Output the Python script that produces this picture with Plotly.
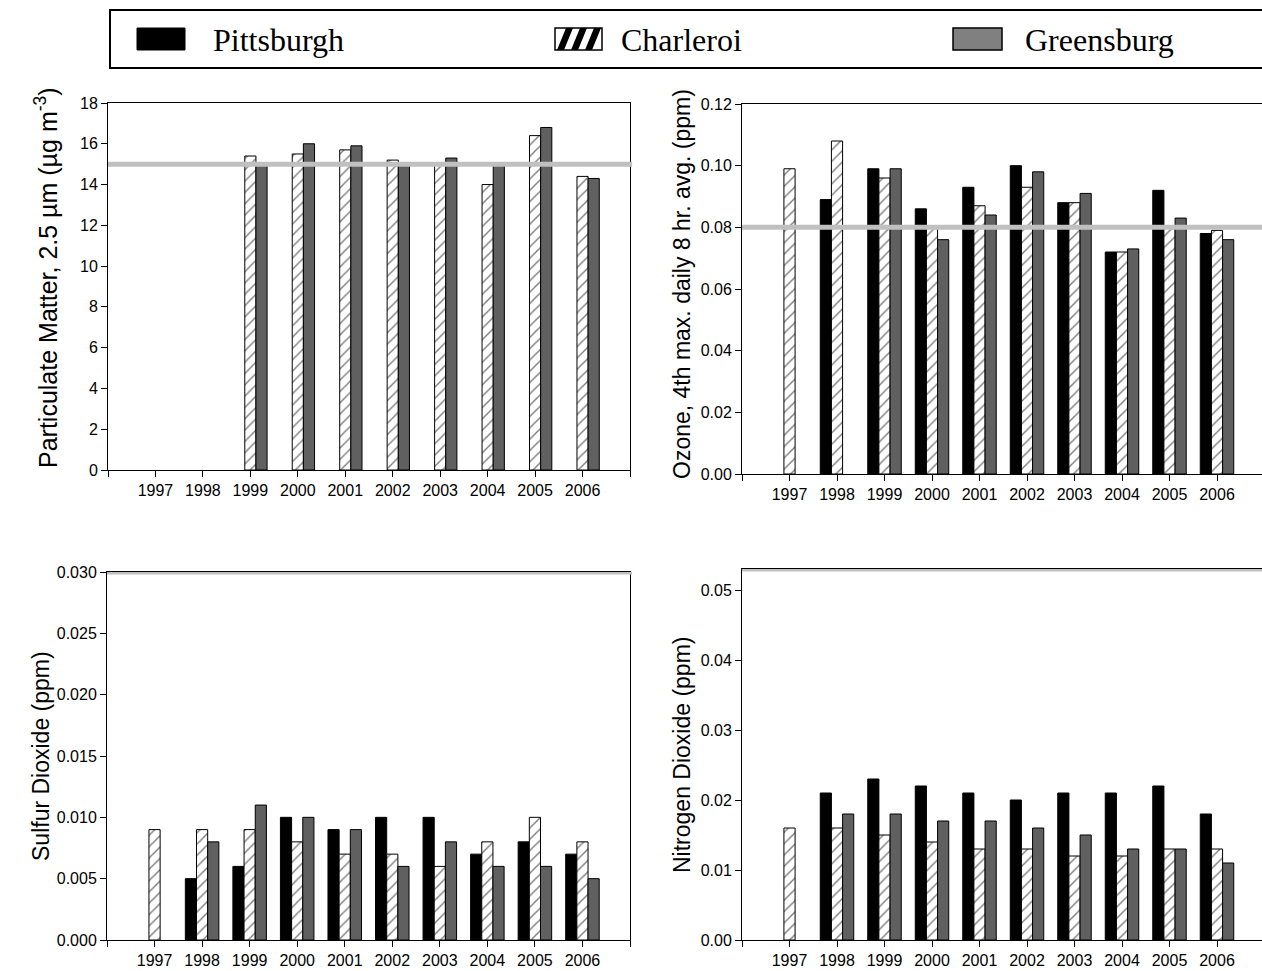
import plotly.graph_objects as go

# ---------------- data ----------------
years = [1997, 1998, 1999, 2000, 2001, 2002, 2003, 2004, 2005, 2006]
tick_labels = ["1997", "1998", "1999", "2000", "2001", "2002", "2003", "2004", "2005", "2006"]
edge_ticks = [1996, 2007]
sites = ["Pittsburgh", "Charleroi", "Greensburg"]

pm_pitt = [None, None, None, None, None, None, None, None, None, None]
pm_charl = [None, None, 15.4, 15.5, 15.7, 15.2, 15.0, 14.0, 16.4, 14.4]
pm_green = [None, None, 15.0, 16.0, 15.9, 15.0, 15.3, 15.0, 16.8, 14.3]

oz_pitt = [None, 0.089, 0.099, 0.086, 0.093, 0.100, 0.088, 0.072, 0.092, 0.078]
oz_charl = [0.099, 0.108, 0.096, 0.080, 0.087, 0.093, 0.088, 0.072, 0.080, 0.079]
oz_green = [None, None, 0.099, 0.076, 0.084, 0.098, 0.091, 0.073, 0.083, 0.076]

so2_pitt = [None, 0.005, 0.006, 0.010, 0.009, 0.010, 0.010, 0.007, 0.008, 0.007]
so2_charl = [0.009, 0.009, 0.009, 0.008, 0.007, 0.007, 0.006, 0.008, 0.010, 0.008]
so2_green = [None, 0.008, 0.011, 0.010, 0.009, 0.006, 0.008, 0.006, 0.006, 0.005]

no2_pitt = [None, 0.021, 0.023, 0.022, 0.021, 0.020, 0.021, 0.021, 0.022, 0.018]
no2_charl = [0.016, 0.016, 0.015, 0.014, 0.013, 0.013, 0.012, 0.012, 0.013, 0.013]
no2_green = [None, 0.018, 0.018, 0.017, 0.017, 0.016, 0.015, 0.013, 0.013, 0.011]

standards = {"pm": 15, "oz": 0.08, "so2": 0.030, "no2": 0.053}

titles = {
    "pm": "Particulate Matter, 2.5 µm (µg m<sup>-3</sup>)",
    "oz": "Ozone, 4th max. daily 8 hr. avg. (ppm)",
    "so2": "Sulfur Dioxide (ppm)",
    "no2": "Nitrogen Dioxide (ppm)",
}

# ---------------- layout helpers ----------------
W, H = 1262, 971
def px(x):
    return x / W
def py(y):
    return 1 - y / H

SANS = "Arial, Liberation Sans, sans-serif"
SERIF = "Times New Roman, Liberation Serif, serif"
TICK = 16
BAR_W = 0.235
offsets = [-1.5 * BAR_W, -0.5 * BAR_W, 0.5 * BAR_W]
GREEN_COL = "#606060"

fig = go.Figure()

panels = [
    ("pm", "x", "y", [pm_pitt, pm_charl, pm_green]),
    ("oz", "x2", "y2", [oz_pitt, oz_charl, oz_green]),
    ("so2", "x3", "y3", [so2_pitt, so2_charl, so2_green]),
    ("no2", "x4", "y4", [no2_pitt, no2_charl, no2_green]),
]

for key, xa, ya, series in panels:
    for i, (name, vals) in enumerate(zip(sites, series)):
        if i == 0:
            marker = dict(color="black", line=dict(color="black", width=1))
        elif i == 1:
            marker = dict(color="white", line=dict(color="black", width=1),
                          pattern=dict(shape="/", fgcolor="black", bgcolor="white",
                                       size=8, solidity=0.18))
        else:
            marker = dict(color=GREEN_COL, line=dict(color="black", width=1))
        fig.add_trace(go.Bar(x=years, y=vals, name=name, xaxis=xa, yaxis=ya,
                             width=BAR_W, offset=offsets[i], marker=marker,
                             showlegend=False))

def xaxis_cfg(domain, rng, anchor):
    return dict(domain=domain, range=rng, anchor=anchor, tickmode="array",
                tickvals=years, ticktext=tick_labels, ticks="outside", ticklen=6,
                tickcolor="black", showline=True, linecolor="black", linewidth=1,
                mirror=True, showgrid=False, zeroline=False,
                minor=dict(tickmode="array", tickvals=edge_ticks, ticks="outside",
                           ticklen=6, tickcolor="black", showgrid=False),
                tickfont=dict(family=SANS, size=TICK, color="black"))

def yaxis_cfg(domain, rng, dtick, fmt, anchor, mirror):
    return dict(domain=domain, range=rng, anchor=anchor, dtick=dtick, tick0=0,
                tickformat=fmt, ticks="outside", ticklen=6, tickcolor="black",
                showline=True, linecolor="black", linewidth=1, mirror=mirror,
                showgrid=False, zeroline=False,
                tickfont=dict(family=SANS, size=TICK, color="black"))

left_dom = [px(108), px(630)]
right_dom = [px(742), 1.0]
right_range = [1996, 1996 + (W - 742) / 47.5]

fig.update_layout(
    width=W, height=H, margin=dict(l=0, r=0, t=0, b=0, autoexpand=False),
    paper_bgcolor="white", plot_bgcolor="white", barmode="overlay",
    xaxis=xaxis_cfg(left_dom, [1996, 2007], "y"),
    yaxis=yaxis_cfg([py(470), py(103)], [0, 18], 2, "d", "x", True),
    xaxis2=xaxis_cfg(right_dom, right_range, "y2"),
    yaxis2=yaxis_cfg([py(474), py(104)], [0, 0.12], 0.02, ".2f", "x2", False),
    xaxis3=xaxis_cfg([px(107), px(630)], [1996, 2007], "y3"),
    yaxis3=yaxis_cfg([py(940), py(572)], [0, 0.030], 0.005, ".3f", "x3", True),
    xaxis4=xaxis_cfg(right_dom, right_range, "y4"),
    yaxis4=yaxis_cfg([py(940), py(569)], [0, 0.053], 0.01, ".2f", "x4", False),
)

# standard lines
for key, xa, ya in [("pm", "x", "y"), ("oz", "x2", "y2"), ("so2", "x3", "y3"), ("no2", "x4", "y4")]:
    fig.add_shape(type="line", xref=f"{xa} domain", yref=ya, x0=0, x1=1.004,
                  y0=standards[key], y1=standards[key],
                  line=dict(color="#c0c0c0", width=5), layer="above")

# y-axis titles
for key, xc, yc, fs in [("pm", 46, 278, 25), ("oz", 682, 284, 23),
                        ("so2", 41, 756, 23), ("no2", 682, 755, 23)]:
    fig.add_annotation(text=titles[key], x=px(xc), y=py(yc), xref="paper", yref="paper",
                       textangle=-90, showarrow=False, xanchor="center", yanchor="middle",
                       font=dict(family=SANS, size=fs, color="black"))

# legend box
fig.add_shape(type="rect", xref="paper", yref="paper", x0=px(110), x1=1.02,
              y0=py(68), y1=py(10), line=dict(color="black", width=2),
              fillcolor="white", layer="below")
# swatches
fig.add_shape(type="rect", xref="paper", yref="paper", x0=px(137), x1=px(185),
              y0=py(50), y1=py(28), line=dict(color="black", width=1), fillcolor="black")
fig.add_shape(type="rect", xref="paper", yref="paper", x0=px(555), x1=px(602),
              y0=py(50), y1=py(28), line=dict(color="black", width=1.5), fillcolor="white")
for b in [557, 571, 585]:
    path = (f"M {px(b)},{py(50)} L {px(b+7)},{py(50)} L {px(b+16)},{py(28)} "
            f"L {px(b+9)},{py(28)} Z")
    fig.add_shape(type="path", xref="paper", yref="paper", path=path,
                  fillcolor="black", line=dict(width=0))
fig.add_shape(type="rect", xref="paper", yref="paper", x0=px(953), x1=px(1002),
              y0=py(50), y1=py(28), line=dict(color="black", width=1.5), fillcolor="#808080")

for name, xl in zip(sites, [211, 619, 1023]):
    fig.add_annotation(text=name, x=px(xl), y=py(40), xref="paper", yref="paper",
                       showarrow=False, xanchor="left", yanchor="middle",
                       font=dict(family=SERIF, size=32, color="black"))

fig.write_html("out.html", config={"displayModeBar": False},
               post_script="document.body.style.margin='0';document.documentElement.style.margin='0';document.body.style.overflow='hidden';")
